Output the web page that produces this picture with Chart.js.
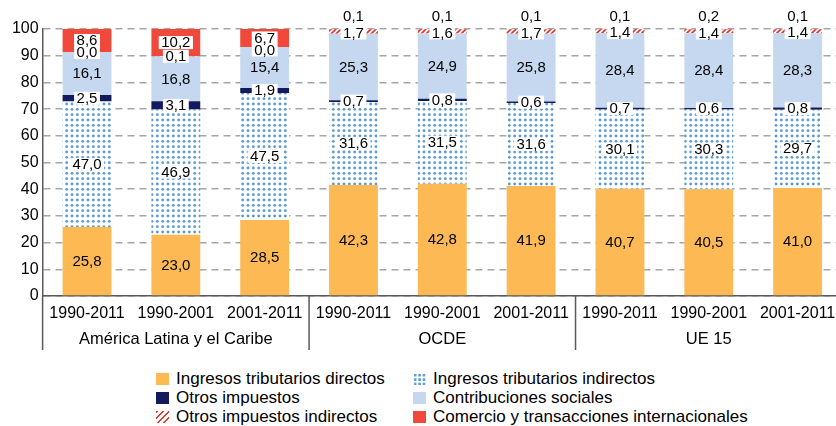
<!DOCTYPE html>
<html>
<head>
<meta charset="utf-8">
<script src="https://cdn.jsdelivr.net/npm/chart.js@4"></script>
<style>
    body { margin: 0; width: 836px; height: 426px; overflow: hidden; background: #fff; position: relative; font-family: "Liberation Sans", Arial, sans-serif; }
    #wrap { position: absolute; left: 0; top: 0; width: 850px; height: 350px; }
    .legend { position: absolute; top: 369px; font-size: 17px; color: #000; }
    .legend div { height: 19px; line-height: 19px; white-space: nowrap; display: flex; align-items: center; }
    .sw { width: 13px; height: 12px; margin-right: 7px; flex: none; }
</style>
</head>
<body>
<div id="wrap"><canvas id="chart"></canvas></div>

<div class="legend" style="left:156px">
    <div><span class="sw" style="background:#fcb954"></span>Ingresos tributarios directos</div>
    <div><span class="sw" style="background:#141a5e"></span>Otros impuestos</div>
    <div><span class="sw" style="background:repeating-linear-gradient(135deg, #e8332a 0 1.7px, #fff 1.7px 4.3px)"></span>Otros impuestos indirectos</div>
</div>
<div class="legend" style="left:413px">
    <div><span class="sw" style="background:radial-gradient(circle, #5b9bd5 1.2px, transparent 1.6px) 0 0 / 4.4px 4.4px"></span>Ingresos tributarios indirectos</div>
    <div><span class="sw" style="background:#c5d8f0"></span>Contribuciones sociales</div>
    <div><span class="sw" style="background:#f0493c"></span>Comercio y transacciones internacionales</div>
</div>

<script>
// --- DATA ---
const categories = ['1990-2011', '1990-2001', '2001-2011', '1990-2011', '1990-2001', '2001-2011', '1990-2011', '1990-2001', '2001-2011'];
const groups = ['América Latina y el Caribe', 'OCDE', 'UE 15'];
const directos = [25.8, 23.0, 28.5, 42.3, 42.8, 41.9, 40.7, 40.5, 41.0];
const indirectos = [47.0, 46.9, 47.5, 31.6, 31.5, 31.6, 30.1, 30.3, 29.7];
const otrosImpuestos = [2.5, 3.1, 1.9, 0.7, 0.8, 0.6, 0.7, 0.6, 0.8];
const contribuciones = [16.1, 16.8, 15.4, 25.3, 24.9, 25.8, 28.4, 28.4, 28.3];
const otrosIndirectos = [0.0, 0.1, 0.0, 1.7, 1.6, 1.7, 1.4, 1.4, 1.4];
const comercio = [8.6, 10.2, 6.7, 0.1, 0.1, 0.1, 0.1, 0.2, 0.1];
const yTicks = [0, 10, 20, 30, 40, 50, 60, 70, 80, 90, 100];

const FONT = '"Liberation Sans", Arial, sans-serif';

// --- PATTERNS ---
function dotPattern() {
    const c = document.createElement('canvas');
    c.width = 16; c.height = 16;
    const g = c.getContext('2d');
    g.fillStyle = '#fff';
    g.fillRect(0, 0, 16, 16);
    g.fillStyle = '#5b9bd5';
    for (let i = 0; i < 3; i++) {
        for (let j = 0; j < 3; j++) {
            g.beginPath();
            g.arc(2.67 + i * 5.33, 2.67 + j * 5.33, 1.4, 0, Math.PI * 2);
            g.fill();
        }
    }
    return g.createPattern(c, 'repeat');
}

function hatchPattern() {
    const s = 5;
    const c = document.createElement('canvas');
    c.width = s; c.height = s;
    const g = c.getContext('2d');
    g.fillStyle = '#fff';
    g.fillRect(0, 0, s, s);
    g.strokeStyle = '#e8332a';
    g.lineWidth = 1.7;
    g.beginPath();
    g.moveTo(-1, s + 1); g.lineTo(s + 1, -1);
    g.moveTo(-1, 1); g.lineTo(1, -1);
    g.moveTo(s - 1, s + 1); g.lineTo(s + 1, s - 1);
    g.stroke();
    return g.createPattern(c, 'repeat');
}

// bars are drawn as share of each column total (100% stacked), labels show the raw values
const series = [directos, indirectos, otrosImpuestos, contribuciones, otrosIndirectos, comercio];
const totals = categories.map((_, i) => series.reduce((sum, s) => sum + s[i], 0));
const share = arr => arr.map((v, i) => v / totals[i] * 100);

const fmt = v => v.toFixed(1).replace('.', ',');

// --- PLUGINS ---
const valueLabels = {
    id: 'valueLabels',
    afterDatasetsDraw(chart) {
        const { ctx, chartArea } = chart;
        const last = series.length - 1;
        const centre = (di, i) => {
            const bar = chart.getDatasetMeta(di).data[i];
            return (Math.max(bar.y, chartArea.top) + bar.base) / 2;
        };
        ctx.save();
        ctx.font = `15px ${FONT}`;
        ctx.textAlign = 'center';
        ctx.textBaseline = 'middle';
        chart.data.datasets.forEach((ds, di) => {
            const meta = chart.getDatasetMeta(di);
            meta.data.forEach((bar, i) => {
                const text = fmt(ds.raw[i]);
                let y = centre(di, i);
                const topBar = chart.getDatasetMeta(last).data[i];
                if (di === last && bar.base - bar.y < 3) {
                    // tiny top slice: put the number above the column
                    y = chartArea.top - 13;
                } else if (di === last - 1) {
                    if (topBar.base - topBar.y > 3) y = Math.max(y, centre(last, i) + 12);
                    else y += 1.5;
                }
                if (ds.boxed) {
                    const w = ctx.measureText(text).width;
                    ctx.fillStyle = '#fff';
                    ctx.fillRect(bar.x - w / 2 - 2.5, y - 6.5, w + 5, 13);
                }
                ctx.fillStyle = '#000';
                ctx.fillText(text, bar.x, y + 0.5);
            });
        });
        ctx.restore();
    }
};

const groupAxis = {
    id: 'groupAxis',
    afterDraw(chart) {
        const { ctx, chartArea, scales: { x } } = chart;
        const bottom = chartArea.bottom + 54;
        ctx.save();
        ctx.strokeStyle = '#595959';
        ctx.lineWidth = 1.5;
        const edges = [chartArea.left];
        for (let g = 1; g < groups.length; g++) {
            edges.push((x.getPixelForValue(g * 3 - 1) + x.getPixelForValue(g * 3)) / 2);
        }
        edges.forEach(px => {
            ctx.beginPath();
            ctx.moveTo(px, chartArea.bottom);
            ctx.lineTo(px, bottom);
            ctx.stroke();
        });
        ctx.fillStyle = '#000';
        ctx.font = `16.5px ${FONT}`;
        ctx.textAlign = 'center';
        ctx.textBaseline = 'middle';
        groups.forEach((name, g) => {
            ctx.fillText(name, x.getPixelForValue(g * 3 + 1), chartArea.bottom + 43);
        });
        ctx.restore();
    }
};

// --- CHART ---
const ctx = document.getElementById('chart').getContext('2d');
const dots = dotPattern();
const hatch = hatchPattern();

new Chart(ctx, {
    type: 'bar',
    data: {
        labels: categories,
        datasets: [
            { label: 'Ingresos tributarios directos', data: share(directos), raw: directos, backgroundColor: '#fcb954', boxed: false },
            { label: 'Ingresos tributarios indirectos', data: share(indirectos), raw: indirectos, backgroundColor: dots, boxed: true },
            { label: 'Otros impuestos', data: share(otrosImpuestos), raw: otrosImpuestos, backgroundColor: '#141a5e', boxed: true },
            { label: 'Contribuciones sociales', data: share(contribuciones), raw: contribuciones, backgroundColor: '#c5d8f0', boxed: false },
            { label: 'Otros impuestos indirectos', data: share(otrosIndirectos), raw: otrosIndirectos, backgroundColor: hatch, boxed: true },
            { label: 'Comercio y transacciones internacionales', data: share(comercio), raw: comercio, backgroundColor: '#f0493c', boxed: true }
        ]
    },
    options: {
        responsive: true,
        maintainAspectRatio: false,
        animation: false,
        devicePixelRatio: 1,
        datasets: { bar: { categoryPercentage: 1, barPercentage: 0.55, borderWidth: 0 } },
        layout: { padding: { top: 29, right: 8, left: 0, bottom: 0 } },
        plugins: { legend: { display: false }, tooltip: { enabled: false } },
        scales: {
            x: {
                stacked: true,
                grid: { display: false, drawTicks: false },
                border: { display: true, color: '#595959', width: 1.5 },
                ticks: { color: '#000', font: { family: FONT, size: 16 }, padding: 8, autoSkip: false, maxRotation: 0 },
                afterFit: s => { s.height = 54; }
            },
            y: {
                stacked: true,
                min: 0,
                max: 100,
                afterBuildTicks: s => { s.ticks = yTicks.map(v => ({ value: v })); },
                ticks: { color: '#000', font: { family: FONT, size: 16 }, padding: 4 },
                grid: { color: '#a6a6a6', lineWidth: 1.5, drawTicks: false },
                border: { display: true, color: '#595959', width: 1.5, dash: [7, 5] },
                afterFit: s => { s.width = 42.6; }
            }
        }
    },
    plugins: [valueLabels, groupAxis]
});
</script>
</body>
</html>
